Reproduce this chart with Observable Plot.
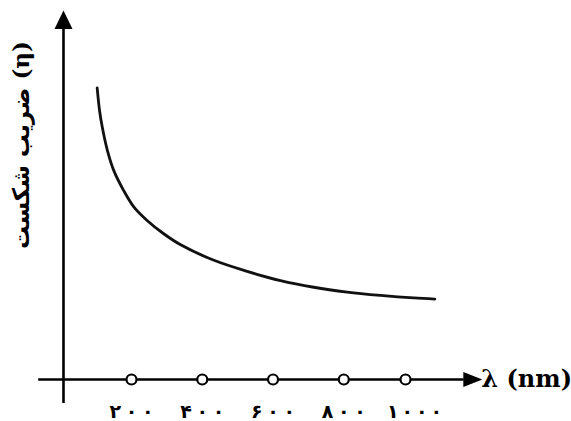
<!DOCTYPE html>
<html>
<head>
<meta charset="utf-8">
<script src="https://cdn.jsdelivr.net/npm/d3@7"></script>
<script src="https://cdn.jsdelivr.net/npm/@observablehq/plot@0.6"></script>
<style>
  html, body { margin: 0; padding: 0; background: #fff; }
  #chart { width: 571px; height: 421px; }
</style>
</head>
<body>
<div id="chart"></div>
<script>
// Wavelength (nm) and refractive index
const wavelength = [99, 106, 114, 129, 148, 177, 207, 244, 291, 339, 433, 527, 621, 715, 811, 919, 1027, 1095];
const eta = [1.790, 1.729, 1.684, 1.621, 1.566, 1.512, 1.467, 1.431, 1.395, 1.365, 1.323, 1.293, 1.268, 1.250, 1.237, 1.228, 1.221, 1.218];

// Axis ticks
const tickValues = [200, 400, 600, 800, 1000];
const tickLabels = ["۲۰۰", "۴۰۰", "۶۰۰", "۸۰۰", "۱۰۰۰"];

// Axis extents (data units)
const xAxisStart = -73, xAxisArrowBase = 1190, xAxisEnd = 1249;
const yAxisStart = 0.935, yAxisArrowBase = 1.951, yAxisEnd = 2.0;
const xOrigin = 0, yOrigin = 1.0;

const yTitle = "ضریب شکست (η)";
const xTitle = "λ (nm)";

const curve = wavelength.map((w, i) => ({w, n: eta[i]}));

// the drawn tick spacing is not uniform: warp the wavelength axis piecewise
const warp = d3.scaleLinear().domain([0, 200, 800, 1000]).range([7.8, 200, 800, 974.4]);

// filled arrowhead symbols: tip at anchor, pointing up
const headY = {draw(ctx) { ctx.moveTo(0, 0); ctx.lineTo(-9, 18.5); ctx.lineTo(9, 18.5); ctx.closePath(); }};
const headX = {draw(ctx) { ctx.moveTo(0, 0); ctx.lineTo(-7.5, 19); ctx.lineTo(7.5, 19); ctx.closePath(); }};

const chart = Plot.plot({
  width: 571,
  height: 421,
  marginTop: 0,
  marginLeft: 0,
  marginRight: 0,
  marginBottom: 42,
  style: {background: "white", color: "black", fontFamily: "DejaVu Sans"},
  x: {transform: warp, domain: [200, 800], range: [131, 343.3], axis: null},
  y: {domain: [1, 2], range: [379, 10], axis: null},
  marks: [
    Plot.ruleY([yOrigin], {x1: xAxisStart, x2: xAxisArrowBase, stroke: "black", strokeWidth: 2.6}),
    Plot.ruleX([xOrigin], {y1: yAxisStart, y2: yAxisArrowBase, stroke: "black", strokeWidth: 2.6}),
    Plot.dot([{x: xOrigin, y: yAxisEnd}], {x: "x", y: "y", symbol: headY, r: 5, fill: "black", stroke: "none"}),
    Plot.dot([{x: xAxisEnd, y: yOrigin}], {x: "x", y: "y", symbol: headX, r: 5, fill: "black", stroke: "none", rotate: 90}),
    Plot.line(curve, {x: "w", y: "n", curve: "catmull-rom", stroke: "#111", strokeWidth: 2.8}),
    Plot.dot(tickValues, {x: d => d, y: () => yOrigin, r: 5, fill: "white", stroke: "black", strokeWidth: 2.2}),
    Plot.axisX({ticks: tickValues, tickFormat: (d, i) => tickLabels[i], tickSize: 0, tickPadding: 25,
      fontSize: 19, fontWeight: "bold", fontFamily: "DejaVu Sans", ariaLabel: "xticks"}),
    Plot.text([xTitle], {x: () => xAxisEnd, y: () => yOrigin, text: d => d, textAnchor: "start", dx: -1,
      fontSize: 24, fontWeight: "bold", fontFamily: "DejaVu Serif", fill: "black", ariaLabel: "xtitle"}),
    Plot.text([yTitle], {frameAnchor: "left", text: d => d, textAnchor: "middle", dx: 21, dy: -45, rotate: -90,
      fontSize: 23, fontWeight: "bold", fontFamily: "DejaVu Serif, DejaVu Sans", fill: "black"})
  ]
});
document.getElementById("chart").appendChild(chart);
d3.select(chart).selectAll('g[aria-label^="xticks"] text').each(function() {
  const n = this.textContent.length;
  d3.select(this).attr("textLength", 11 * n + 11).attr("lengthAdjust", "spacing");
});
d3.select(chart).selectAll('g[aria-label="xtitle"] text').attr("textLength", 82).attr("lengthAdjust", "spacing");
</script>
</body>
</html>
